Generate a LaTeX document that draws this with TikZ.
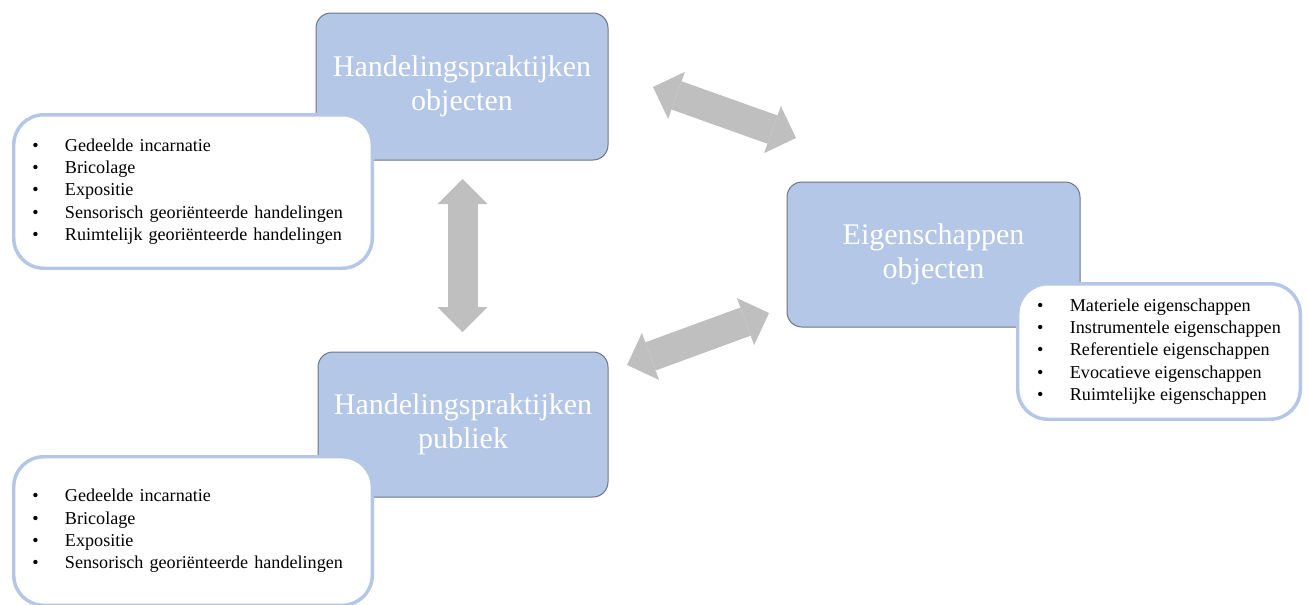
\documentclass[tikz,border=0pt]{standalone}
\usepackage{fontspec}
\setmainfont{Liberation Serif}
\usetikzlibrary{arrows.meta}
\tikzset{every picture/.style={line width=0.75pt}}
\definecolor{boxblue}{HTML}{B4C7E7}
\definecolor{boxline}{HTML}{6B7585}
\definecolor{arrowgrey}{HTML}{BFBFBF}
% bullet item with hanging text
\newcommand{\itm}[1]{\makebox[24.5pt][l]{\textbullet}#1}

\begin{document}
\begin{tikzpicture}[x=0.75pt,y=0.75pt,yscale=-1,xscale=1,
  titlebox/.style={draw=boxline, fill=boxblue, rounded corners=11.25pt, align=center, text=white, font=\fontsize{22.5}{25.3}\selectfont},
  listbox/.style={draw=boxblue, line width=2.6pt, fill=white, rounded corners=22.5pt, align=left, font=\fontsize{13.6}{16.7}\selectfont},
  dblarrow/.style={draw=arrowgrey, line width=22.5pt, {Triangle[length=18.75pt,width=37.5pt,line width=0pt]}-{Triangle[length=18.75pt,width=37.5pt,line width=0pt]}}]
\useasboundingbox (0,0) rectangle (1308,604);

%Title boxes
\node [titlebox, minimum width=219pt, minimum height=110.25pt] (objH) at (462,86.5) {Handelingspraktijken\\objecten};
\node [titlebox, minimum width=219.75pt, minimum height=108.75pt] (eig) at (933.5,254.5) {Eigenschappen\\objecten};
\node [titlebox, minimum width=217.5pt, minimum height=108.75pt] (pubH) at (463,424.5) {Handelingspraktijken\\publiek};

%List boxes
\node [listbox, text width=241pt, minimum width=268.9pt, minimum height=115.1pt] (objL) at (193,191.5) {\itm{Gedeelde incarnatie}\\\itm{Bricolage}\\\itm{Expositie}\\\itm{Sensorisch georiënteerde handelingen}\\\itm{Ruimtelijk georiënteerde handelingen}};
\node [listbox, minimum width=211.9pt, minimum height=101.6pt] (eigL) at (1159,351.5) {\itm{Materiele eigenschappen}\\\itm{Instrumentele eigenschappen}\\\itm{Referentiele eigenschappen}\\\itm{Evocatieve eigenschappen}\\\itm{Ruimtelijke eigenschappen}};
\node [listbox, text width=241pt, minimum width=268.9pt, minimum height=111.4pt] (pubL) at (193,531) {\itm{Gedeelde incarnatie}\\\itm{Bricolage}\\\itm{Expositie}\\\itm{Sensorisch georiënteerde handelingen}};

%Double arrows
\coordinate (vTop) at (462.5,179);
\coordinate (vBot) at (462.5,332);
\coordinate (dTopL) at (653,87);
\coordinate (dTopR) at (796,138);
\coordinate (dBotL) at (627,365);
\coordinate (dBotR) at (769,313);
\draw [dblarrow] (vTop) -- (vBot);
\draw [dblarrow] (dTopL) -- (dTopR);
\draw [dblarrow] (dBotL) -- (dBotR);

\end{tikzpicture}
\end{document}
